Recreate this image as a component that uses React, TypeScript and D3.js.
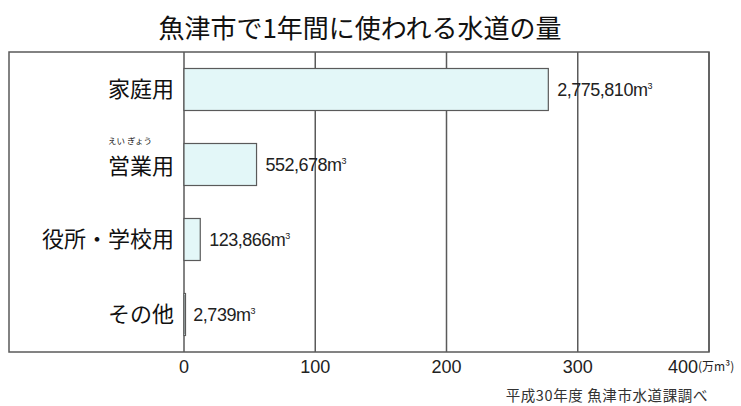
import React from "react";
import * as d3 from "d3";

const categories = ["家庭用", "営業用", "役所・学校用", "その他"];
const values = [2775810, 552678, 123866, 2739];
const valueLabels = ["2,775,810", "552,678", "123,866", "2,739"];
const ticks = [0, 100, 200, 300, 400];
const title = "魚津市で1年間に使われる水道の量";
const source = "平成30年度 魚津市水道課調べ";
const unit = "(万m³)";
const furigana = "えい ぎょう";

const W = 741;
const H = 406;
const frame = { left: 9, right: 709, top: 52, bottom: 352 };
const x0 = 184;

export default function App() {
  const x = d3.scaleLinear().domain([0, 400]).range([x0, frame.right]);
  const y = d3
    .scaleBand<string>()
    .domain(categories)
    .range([frame.top, frame.bottom])
    .paddingInner(0.44)
    .paddingOuter(0.22);
  const jp = "'Noto Sans CJK JP', sans-serif";
  const num = "'Liberation Sans', Arial, sans-serif";
  const line = "#5a5a5a";
  return (
    <svg
      width={W}
      height={H}
      style={{ position: "absolute", left: 0, top: 0, background: "#fff" }}
    >
      <text x={360} y={38} textAnchor="middle" fontFamily={jp} fontSize={26} fill="#111">
        {title}
      </text>
      {/* frame */}
      <rect
        x={frame.left}
        y={frame.top}
        width={frame.right - frame.left}
        height={frame.bottom - frame.top}
        fill="none"
        stroke={line}
        strokeWidth={1.5}
      />
      {ticks.map((t) => (
        <line
          key={t}
          x1={x(t)}
          x2={x(t)}
          y1={frame.top}
          y2={frame.bottom}
          stroke={line}
          strokeWidth={1.5}
        />
      ))}
      {categories.map((c, i) => {
        const v = values[i] / 10000;
        const by = y(c)!;
        const bh = y.bandwidth();
        return (
          <g key={c}>
            <rect
              x={x(0)}
              y={by}
              width={Math.max(x(v) - x(0), 1.5)}
              height={bh}
              fill="#e3f7f8"
              stroke={line}
              strokeWidth={1.2}
            />
            <text
              x={174}
              y={by + bh / 2}
              dy={c === "営業用" ? "0.42em" : "0.36em"}
              textAnchor="end"
              fontFamily={jp}
              fontSize={22}
              fill="#111"
            >
              {c}
            </text>
            <text
              x={x(v) + 9}
              y={by + bh / 2}
              dy="0.36em"
              fontFamily={num}
              fontSize={18}
              fill="#222"
              letterSpacing={-0.5}
            >
              {valueLabels[i]}
              <tspan>m</tspan>
              <tspan fontSize={9} dy={-7}>3</tspan>
            </text>
          </g>
        );
      })}
      <text
        x={108}
        y={y("営業用")! + 0}
        fontFamily={jp}
        fontSize={8.5}
        fill="#111"
      >
        {furigana}
      </text>
      {ticks.map((t) =>
        t === 400 ? (
          <text key={t} x={668} y={373} fontFamily={num} fontSize={18} fill="#222">
            {t}
            <tspan fontFamily={jp} fontSize={12} dy={-2}>
              {unit}
            </tspan>
          </text>
        ) : (
          <text
            key={t}
            x={x(t)}
            y={373}
            textAnchor="middle"
            fontFamily={num}
            fontSize={18}
            fill="#222"
          >
            {t}
          </text>
        )
      )}
      <text
        x={708}
        y={401}
        textAnchor="end"
        fontFamily={jp}
        fontSize={14.5}
        letterSpacing={0.6}
        fill="#333"
      >
        {source}
      </text>
    </svg>
  );
}
